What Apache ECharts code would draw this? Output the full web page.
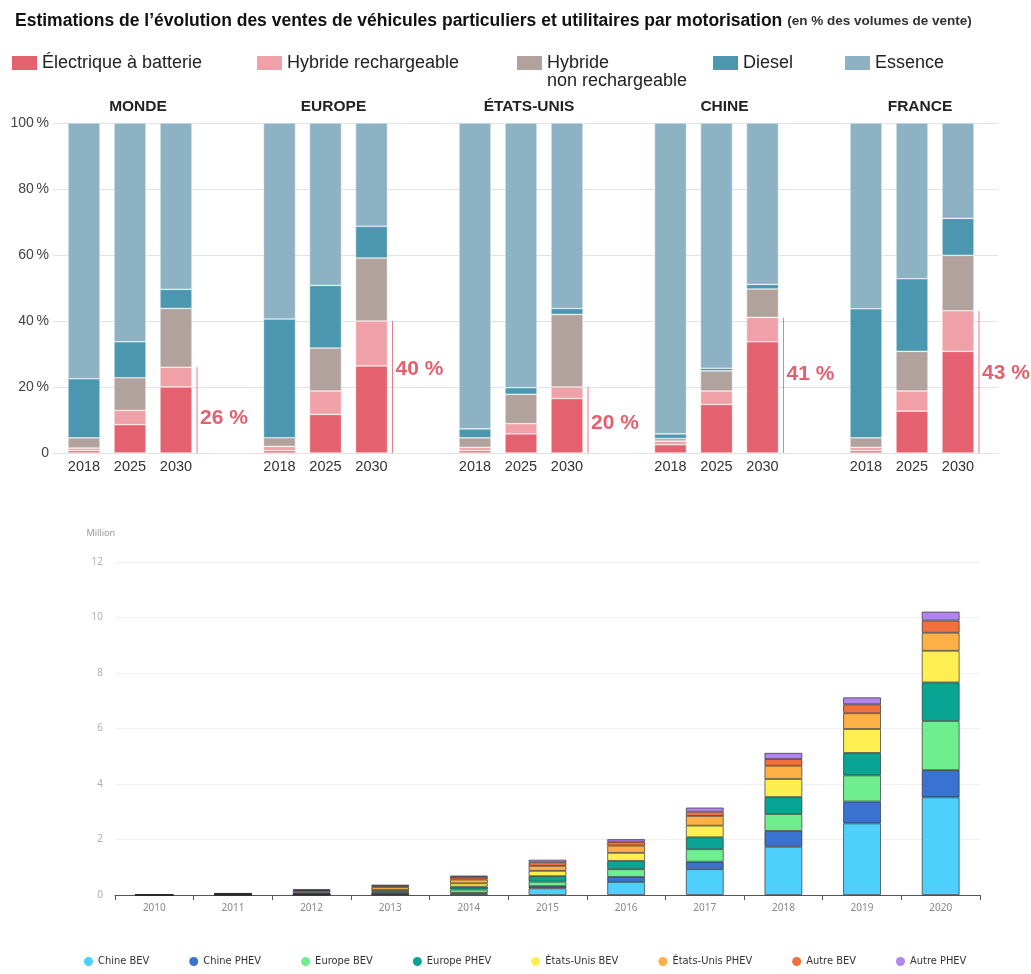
<!DOCTYPE html>
<html><head><meta charset="utf-8">
<script src="https://cdn.jsdelivr.net/npm/echarts@6/dist/echarts.min.js"></script>
<style>html,body{margin:0;padding:0;background:#fff}#c{width:1031px;height:974px}</style>
</head><body><div id="c"></div>
<script>
// ---------- Données : graphique du haut (en % des volumes de vente) ----------
const regions = ['MONDE', 'EUROPE', 'ÉTATS-UNIS', 'CHINE', 'FRANCE'];
const years = ['2018', '2025', '2030'];
const motorisations = ['Électrique à batterie', 'Hybride rechargeable', 'Hybride non rechargeable', 'Diesel', 'Essence'];
// une ligne par région : [2018, 2025, 2030]
const electrique     = [[0.7, 8.6, 20.0], [0.7, 11.7, 26.4], [0.7, 5.8, 16.5], [2.5, 14.7, 33.7], [0.7, 12.7, 30.8]];
const hybrideRech    = [[0.8, 4.3, 6.0],  [1.3, 7.1, 13.6],  [1.0, 3.1, 3.5],  [1.1, 4.1, 7.4],   [1.0, 6.1, 12.3]];
const hybrideNonRech = [[3.1, 9.9, 17.8], [2.6, 13.0, 19.1], [2.9, 8.9, 22.0], [0.8, 6.1, 8.6],   [2.9, 12.0, 16.8]];
const diesel         = [[17.9, 10.9, 5.8],[36.0, 19.0, 9.6], [2.7, 2.0, 1.8],  [1.4, 0.8, 1.4],   [39.1, 22.0, 11.2]];
const essence        = [[77.5, 66.3, 50.4],[59.4, 49.2, 31.3],[92.7, 80.2, 56.2],[94.2, 74.3, 48.9],[56.3, 47.2, 28.9]];
const partElectrifiee2030 = [26, 40, 20, 41, 43];

// ---------- Données : graphique du bas (millions) ----------
const annees = ['2010','2011','2012','2013','2014','2015','2016','2017','2018','2019','2020'];
const seriesBas = ['Chine BEV','Chine PHEV','Europe BEV','Europe PHEV','États-Unis BEV','États-Unis PHEV','Autre BEV','Autre PHEV'];
const chineBEV    = [0.002, 0.005, 0.01, 0.02, 0.05, 0.24, 0.47, 0.93, 1.74, 2.58, 3.52];
const chinePHEV   = [0.001, 0.002, 0.01, 0.01, 0.03, 0.08, 0.18, 0.27, 0.57, 0.79, 0.98];
const europeBEV   = [0.001, 0.01, 0.02, 0.05, 0.12, 0.16, 0.28, 0.45, 0.61, 0.94, 1.77];
const europePHEV  = [0.000, 0.001, 0.01, 0.05, 0.10, 0.20, 0.30, 0.43, 0.61, 0.81, 1.39];
const usBEV       = [0.001, 0.01, 0.04, 0.05, 0.12, 0.19, 0.29, 0.42, 0.65, 0.86, 1.14];
const usPHEV      = [0.001, 0.01, 0.06, 0.10, 0.14, 0.18, 0.26, 0.35, 0.48, 0.57, 0.65];
const autreBEV    = [0.010, 0.015, 0.03, 0.05, 0.09, 0.13, 0.14, 0.15, 0.24, 0.32, 0.44];
const autrePHEV   = [0.002, 0.005, 0.02, 0.04, 0.05, 0.09, 0.09, 0.15, 0.22, 0.25, 0.32];

// ---------- Styles ----------
const SANS = '"Liberation Sans", Arial, sans-serif';
const COND = '"DejaVu Sans Condensed", "Liberation Sans", sans-serif';
const topColors = ['#e4626f', '#f0a1a7', '#b1a29e', '#4b97af', '#8cb2c4'];
const botColors = ['#4dd0fb', '#3a72d2', '#6eee8f', '#08a594', '#fdee52', '#fdb045', '#f2703d', '#b284ef'];
const topData = [electrique, hybrideRech, hybrideNonRech, diesel, essence];
const botData = [chineBEV, chinePHEV, europeBEV, europePHEV, usBEV, usPHEV, autreBEV, autrePHEV];
const labelAt = [10.6, 25.5, 9.0, 24.0, 24.3]; // hauteur (en %) des étiquettes

const groupStep = 195.5, groupLeft = 61, groupWidth = 138;
const gTop = 123, gBottom = 974 - 453;

const grids = [{left: 53, right: 33, top: gTop, bottom: gBottom}];
const xAxes = [{type: 'value', gridIndex: 0, min: 0, max: 1, show: false}];
const yAxes = [{
  type: 'value', gridIndex: 0, min: 0, max: 100, interval: 20,
  axisLine: {show: false}, axisTick: {show: false},
  axisLabel: {margin: 4, color: '#444', fontSize: 14, fontFamily: SANS,
    formatter: v => v === 0 ? '0' : v + '\u2009%'},
  splitLine: {lineStyle: {color: '#e2e2e2', width: 1}}
}];
const series = [];
const titles = [{
  left: 10, top: 7,
  text: '{b|Estimations de l\u2019évolution des ventes de véhicules particuliers et utilitaires par motorisation} {n|(en % des volumes de vente)}',
  textStyle: {rich: {
    b: {fontFamily: SANS, fontWeight: 'bold', fontSize: 17.5, color: '#111'},
    n: {fontFamily: SANS, fontSize: 13.5, color: '#333'}
  }}
}];

regions.forEach((r, i) => {
  const gi = i + 1;
  const left = groupLeft + i * groupStep;
  grids.push({left: left, width: groupWidth, top: gTop, bottom: gBottom});
  xAxes.push({type: 'category', gridIndex: gi, data: years,
    axisLine: {show: false}, axisTick: {show: false},
    axisLabel: {interval: 0, margin: 6, color: '#333', fontSize: 14.5, fontFamily: SANS}});
  yAxes.push({type: 'value', gridIndex: gi, min: 0, max: 100, show: false, splitLine: {show: false}});
  titles.push({text: r, left: left + groupWidth / 2 + 3, top: 94, textAlign: 'center',
    textStyle: {fontFamily: SANS, fontWeight: 'bold', fontSize: 15.5, color: '#222'}});
  motorisations.forEach((m, k) => {
    series.push({
      type: 'bar', name: m, stack: 'g' + i, xAxisIndex: gi, yAxisIndex: gi,
      barWidth: 32, data: topData[k][i],
      itemStyle: {color: topColors[k], borderColor: 'rgba(255,255,255,0.7)', borderWidth: 0.6},
      emphasis: {disabled: true}
    });
  });
  series.push({
    type: 'custom', xAxisIndex: gi, yAxisIndex: gi, silent: true,
    data: [[2, partElectrifiee2030[i], labelAt[i]]],
    renderItem: (params, api) => {
      const idx = api.value(0);
      const top = api.coord([idx, api.value(1)]);
      const base = api.coord([idx, 0]);
      const lab = api.coord([idx, api.value(2)]);
      const x = base[0] + 21;
      return {type: 'group', children: [
        {type: 'line', shape: {x1: x, y1: top[1], x2: x, y2: base[1]}, style: {stroke: '#ea7d8a', lineWidth: 1}},
        {type: 'text', style: {text: api.value(1) + ' %', x: x + 3, y: lab[1], fill: '#e3606f',
          font: 'bold 21px ' + SANS, verticalAlign: 'middle', align: 'left'}}
      ]};
    }
  });
});

// ---------- graphique du bas ----------
const gb = grids.length;
grids.push({left: 115, right: 51, top: 562, bottom: 974 - 895});
xAxes.push({type: 'category', gridIndex: gb, data: annees,
  axisLine: {lineStyle: {color: '#555', width: 1}},
  axisTick: {show: true, length: 5, lineStyle: {color: '#555'}},
  axisLabel: {interval: 0, margin: 8, color: '#888', fontSize: 10, fontFamily: '"Noto Sans", sans-serif'}});
yAxes.push({type: 'value', gridIndex: gb, min: 0, max: 12, interval: 2,
  name: 'Million', nameLocation: 'end', nameGap: 24,
  nameTextStyle: {align: 'right', color: '#999', fontSize: 9, fontFamily: '"Noto Sans", sans-serif'},
  axisLine: {show: false}, axisTick: {show: false},
  axisLabel: {margin: 12, color: '#b0b0b0', fontSize: 10, fontFamily: '"Noto Sans", sans-serif'},
  splitLine: {lineStyle: {color: '#f0f0f0'}}});
seriesBas.forEach((s, k) => {
  series.push({
    type: 'bar', name: s, stack: 'bas', xAxisIndex: gb, yAxisIndex: gb,
    barWidth: '48%', data: botData[k],
    itemStyle: {color: botColors[k], borderColor: 'rgba(45,45,45,0.85)', borderWidth: 0.8},
    emphasis: {disabled: true}
  });
});

const topLegendLeft = [12, 257, 517, 713, 845];
const legends = motorisations.map((m, i) => ({
  data: [m], left: topLegendLeft[i], top: 54, padding: 0, itemGap: 0,
  itemWidth: 25, itemHeight: 14, icon: 'rect', selectedMode: false,
  itemStyle: {borderWidth: 0},
  formatter: i === 2 ? () => 'Hybride' : '{name}',
  textStyle: {fontFamily: SANS, fontSize: 18, color: '#222'}
}));
legends.push({
  data: seriesBas, left: 84, top: 956, padding: 0, itemGap: 40,
  itemWidth: 9, itemHeight: 9, icon: 'circle', selectedMode: false,
  itemStyle: {borderWidth: 0},
  textStyle: {fontFamily: COND, fontSize: 11, color: '#333'}
});

const chart = echarts.init(document.getElementById('c'), null, {renderer: 'canvas'});
chart.setOption({
  animation: false,
  backgroundColor: '#fff',
  color: topColors,
  title: titles,
  legend: legends,
  grid: grids,
  xAxis: xAxes,
  yAxis: yAxes,
  series: series,
  graphic: [{type: 'text', left: 547, top: 72,
    style: {text: 'non rechargeable', font: '18px ' + SANS, fill: '#222'}}]
});
</script></body></html>
